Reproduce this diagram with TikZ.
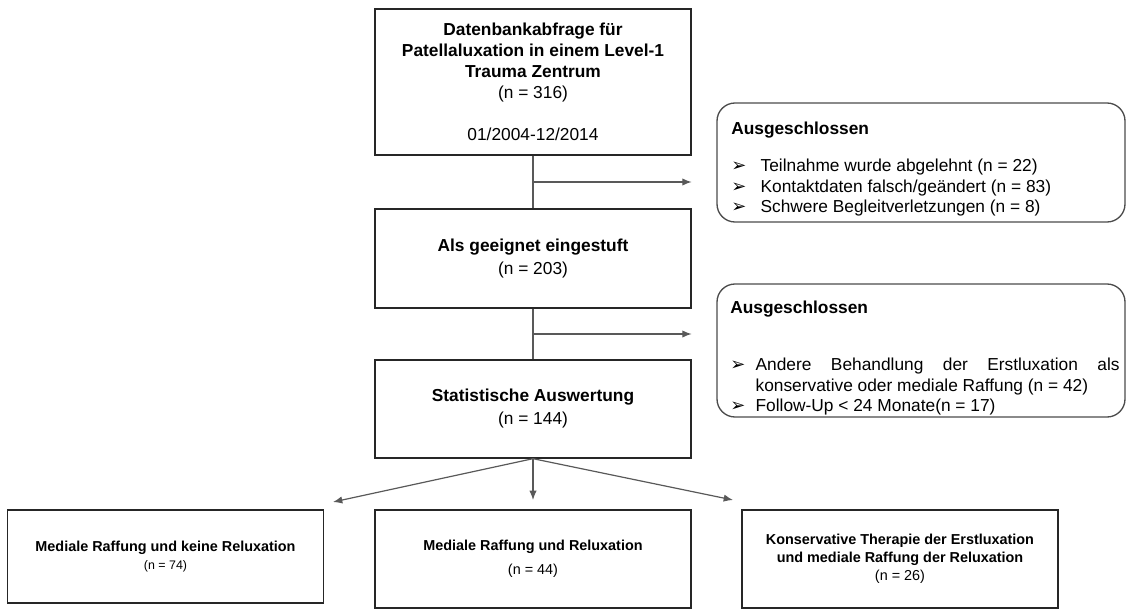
\documentclass[tikz,border=0pt]{standalone}
\usepackage{fontspec}
\setmainfont{Liberation Sans}
\newfontfamily\dejavu{DejaVu Sans}
\usetikzlibrary{arrows.meta, calc}

% Aufzaehlungszeichen und Listeneintrag mit haengendem Einzug
\newcommand{\pfeilzeichen}{{\dejavu\fontsize{13.5}{13}\selectfont ➢}}
\newcommand{\eintrag}[2][22pt]{\par\noindent\hangindent=#1\hangafter=1\makebox[#1][l]{\pfeilzeichen}#2}

\begin{document}
\begin{tikzpicture}[
  x=0.75pt, y=-0.75pt,
  >={Latex[length=7pt,width=5.5pt]},
  hauptbox/.style={draw=black!85, line width=1pt, minimum width=237pt,
                   align=center, inner sep=2pt,
                   font=\fontsize{13}{15.75}\selectfont},
  gruppenbox/.style={draw=black!85, line width=1pt, minimum width=237pt,
                     minimum height=73.5pt, align=center,
                     font=\fontsize{10.8}{13.5}\selectfont\bfseries},
  ausschlussbox/.style={draw=black!70, line width=1pt, rounded corners=13.5pt,
                        minimum width=306pt},
  ausschlusstext/.style={anchor=north west, inner sep=0pt, text width=288pt,
                         align=justify, font=\fontsize{13}{15.5}\selectfont},
  verbinder/.style={draw=black!65, line width=0.9pt}
]
\useasboundingbox (0,0) rectangle (1127,610);

% Hauptstrang
\node[hauptbox, minimum height=109.5pt] (abfrage) at (533,82)
  {\textbf{Datenbankabfrage für}\\\textbf{Patellaluxation in einem Level-1}\\\textbf{Trauma Zentrum}\\(n = 316)\\[15.75pt]01/2004-12/2014};
\node[hauptbox, minimum height=74.25pt] (geeignet) at (533,258.5)
  {\textbf{Als geeignet eingestuft}\\[1.5pt](n = 203)};
\node[hauptbox, minimum height=73.5pt] (auswertung) at (533,409)
  {\textbf{Statistische Auswertung}\\[1.5pt](n = 144)};

% Ausschluesse
\node[ausschlussbox, minimum height=89.25pt] (aus1) at (921,162.5) {};
\node[ausschlusstext] (aus1txt) at (731,122)
  {\noindent\textbf{Ausgeschlossen}\par\vspace{12pt}
   \eintrag{Teilnahme wurde abgelehnt (n = 22)}
   \eintrag{Kontaktdaten falsch/geändert (n = 83)}
   \eintrag{Schwere Begleitverletzungen (n = 8)}};

\node[ausschlussbox, minimum height=99.75pt] (aus2) at (921,350.5) {};
\node[ausschlusstext, text width=292pt] (aus2txt) at (730,301)
  {\noindent\textbf{Ausgeschlossen}\par\vspace{27pt}
   \eintrag[19pt]{Andere Behandlung der Erstluxation als\linebreak konservative oder mediale Raffung (n = 42)}
   \eintrag[19pt]{Follow-Up < 24 Monate(n = 17)}};

% Gruppen
\node[gruppenbox, minimum height=69.75pt] (keine) at (165.5,556.5)
  {Mediale Raffung und keine Reluxation\\{\mdseries\fontsize{9.3}{11}\selectfont (n = 74)}};
\node[gruppenbox] (relux) at (533,559)
  {Mediale Raffung und Reluxation\\[4.5pt]{\mdseries (n = 44)}};
\node[gruppenbox] (konserv) at (900,559)
  {Konservative Therapie der Erstluxation\\und mediale Raffung der Reluxation\\{\mdseries (n = 26)}};

% Verbindungen
\coordinate (abzweig1) at ($(abfrage.south)!0.5!(geeignet.north)$);
\coordinate (abzweig2) at ($(geeignet.south)!0.5!(auswertung.north)$);
\coordinate (ende1) at (abzweig1 -| abfrage.east);
\coordinate (ende2) at (abzweig2 -| abfrage.east);
\coordinate (spitze1) at (333,502);
\coordinate (spitze2) at (533,500);
\coordinate (spitze3) at (733,500);

\draw[verbinder] (abfrage) -- (geeignet);
\draw[verbinder] (geeignet) -- (auswertung);
\draw[verbinder, ->] (abzweig1) -- (ende1);
\draw[verbinder, ->] (abzweig2) -- (ende2);

\draw[verbinder, ->] (auswertung.south) -- (spitze1);
\draw[verbinder, ->] (auswertung.south) -- (spitze2);
\draw[verbinder, ->] (auswertung.south) -- (spitze3);

\end{tikzpicture}
\end{document}
